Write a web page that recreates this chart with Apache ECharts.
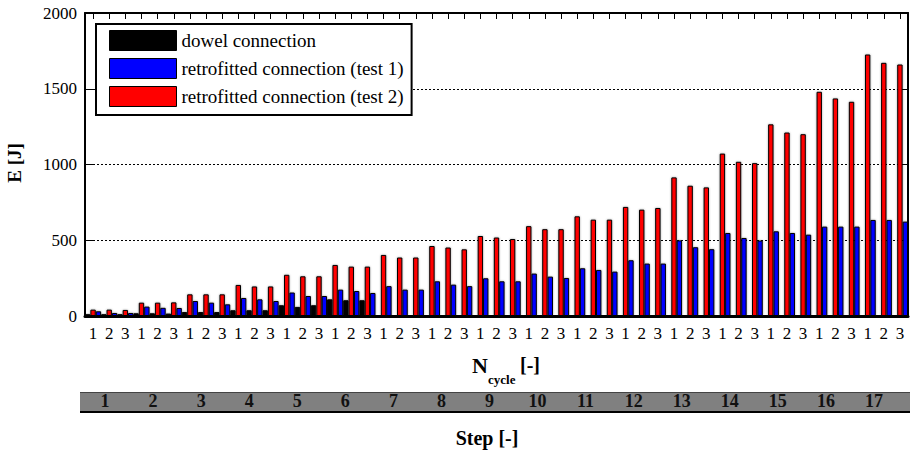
<!DOCTYPE html>
<html><head><meta charset="utf-8">
<script src="https://cdn.jsdelivr.net/npm/echarts@6/dist/echarts.min.js"></script>
<style>html,body{margin:0;padding:0;background:#fff}#c{width:910px;height:452px}</style>
</head><body><div id="c"></div>
<script>
const steps = ['1','2','3','4','5','6','7','8','9','10','11','12','13','14','15','16','17'];
const cycles = ['1','2','3'];
const yTicks = [0, 500, 1000, 1500, 2000];
const seriesNames = ['dowel connection', 'retrofitted connection (test 1)', 'retrofitted connection (test 2)'];
const dowel = [12,12,12, 18,18,16, 26,26,26, 38,38,38, 71,60,71, 110,104,104,
  null,null,null, null,null,null, null,null,null, null,null,null, null,null,null,
  null,null,null, null,null,null, null,null,null, null,null,null, null,null,null, null,null,null];
const test1 = [31,20,20, 62,54,53, 99,88,77, 119,110,99, 155,132,132, 174,165,152,
  197,174,174, 229,207,197, 249,229,229, 280,260,251, 315,304,293, 368,346,346,
  499,454,441, 548,515,498, 559,548,537, 590,590,590, 634,634,623];
const test2 = [42,42,40, 88,88,90, 143,143,143, 205,195,195, 272,262,262, 337,326,326,
  403,386,386, 462,452,440, 528,518,508, 593,573,573, 658,636,636, 720,702,713,
  915,860,849, 1072,1018,1009, 1265,1211,1200, 1480,1436,1414, 1726,1671,1660];

const categories = steps.flatMap(s => cycles.map(c => s + '-' + c));
const FF = "'Liberation Serif','Times New Roman',serif";
const chart = echarts.init(document.getElementById('c'), null, {renderer: 'svg'});

function barSeries(name, data, color) {
  return {
    name, type: 'bar', data, xAxisIndex: 0, yAxisIndex: 0,
    barGap: '0%', barCategoryGap: '0%',
    itemStyle: {color, borderColor: '#000', borderWidth: 1,
      shadowBlur: 2, shadowColor: 'rgba(0,0,0,0.35)'},
    emphasis: {disabled: true}
  };
}

chart.setOption({
  animation: false,
  grid: [
    {left: 85, right: 2, top: 13, bottom: 136},
    {left: 81, width: 817, top: 392, height: 20}
  ],
  legend: {
    data: seriesNames, orient: 'vertical', left: 96, top: 24,
    padding: [6, 8, 8, 13], itemWidth: 67, itemHeight: 20, itemGap: 7,
    backgroundColor: '#fff', borderColor: '#000', borderWidth: 2, borderRadius: 0,
    icon: 'rect', selectedMode: false,
    itemStyle: {borderColor: '#000', borderWidth: 1},
    textStyle: {fontFamily: FF, fontSize: 19, color: '#000'}
  },
  xAxis: [
    {gridIndex: 0, type: 'category', data: categories, position: 'bottom',
      axisLine: {onZero: false, lineStyle: {color: '#000', width: 3}},
      axisTick: {show: false},
      axisLabel: {interval: 0, color: '#000', fontFamily: FF, fontSize: 17, margin: 9,
        formatter: v => v.split('-')[1]}},
    {gridIndex: 0, type: 'category', data: categories, position: 'top',
      axisLine: {onZero: false, lineStyle: {color: '#000', width: 2}},
      axisTick: {show: true, inside: true, length: 6, alignWithLabel: true, interval: 0, lineStyle: {color: '#000', width: 1}},
      axisLabel: {show: false}},
    {gridIndex: 1, type: 'category', data: steps, position: 'bottom',
      axisLine: {show: false, onZero: false},
      axisTick: {inside: true, length: 3, lineStyle: {color: '#222'}},
      axisLabel: {inside: true, margin: 2, color: '#111', fontFamily: FF, fontSize: 18, fontWeight: 'bold'}}
  ],
  yAxis: [
    {gridIndex: 0, type: 'value', min: yTicks[0], max: yTicks[yTicks.length-1], interval: 500,
      axisLine: {show: true, onZero: false, lineStyle: {color: '#000', width: 2}},
      axisTick: {show: true, inside: true, length: 8, lineStyle: {color: '#000'}},
      axisLabel: {color: '#000', fontFamily: FF, fontSize: 17, margin: 8, formatter: v => String(v)},
      splitLine: {lineStyle: {color: '#000', type: [2, 2], width: 1}}},
    {gridIndex: 0, type: 'value', position: 'right', min: yTicks[0], max: yTicks[yTicks.length-1], interval: 500,
      axisLine: {show: true, onZero: false, lineStyle: {color: '#000', width: 2}},
      axisTick: {show: true, inside: true, length: 9, lineStyle: {color: '#000'}},
      axisLabel: {show: false}, splitLine: {show: false}},
    {gridIndex: 1, type: 'value', show: false}
  ],
  graphic: [
    {type: 'rect', z: -10, shape: {x: 80, y: 392, width: 830, height: 20}, style: {fill: '#808080'}},
    {type: 'line', z: -9, shape: {x1: 80, y1: 392.5, x2: 910, y2: 392.5}, style: {stroke: '#444', lineWidth: 1}},
    {type: 'line', z: -9, shape: {x1: 80, y1: 412, x2: 910, y2: 412}, style: {stroke: '#000', lineWidth: 2}},
    {type: 'text', x: 14, y: 163, rotation: Math.PI / 2,
      style: {text: 'E [J]', fontFamily: FF, fontSize: 19, fontWeight: 'bold', fill: '#000', align: 'center', verticalAlign: 'middle'}},
    {type: 'text', x: 480, y: 365,
      style: {text: 'N', fontFamily: FF, fontSize: 22, fontWeight: 'bold', fill: '#000', align: 'center', verticalAlign: 'middle'}},
    {type: 'text', x: 488, y: 379,
      style: {text: 'cycle', fontFamily: FF, fontSize: 13, fontWeight: 'bold', fill: '#000', align: 'left', verticalAlign: 'middle'}},
    {type: 'text', x: 520, y: 365,
      style: {text: '[-]', fontFamily: FF, fontSize: 20, fontWeight: 'bold', fill: '#000', align: 'left', verticalAlign: 'middle'}},
    {type: 'text', x: 487, y: 438,
      style: {text: 'Step [-]', fontFamily: FF, fontSize: 20, fontWeight: 'bold', fill: '#000', align: 'center', verticalAlign: 'middle'}}
  ],
  series: [
    barSeries(seriesNames[0], dowel, '#000'),
    barSeries(seriesNames[2], test2, '#ff0000'),
    barSeries(seriesNames[1], test1, '#0000ff')
  ]
});
</script></body></html>
